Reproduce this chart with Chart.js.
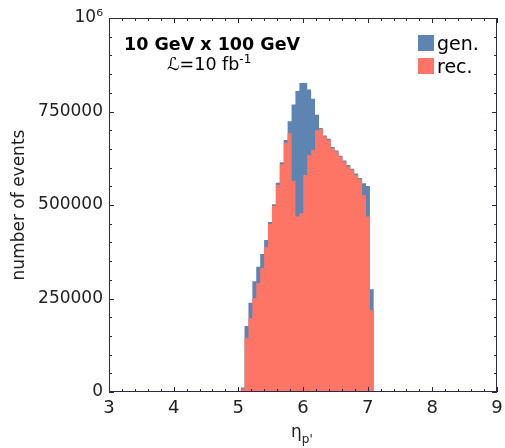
<!DOCTYPE html>
<html>
<head>
<meta charset="utf-8">
<script src="https://cdn.jsdelivr.net/npm/chart.js@4.4.0/dist/chart.umd.min.js"></script>
<style>
  body { margin: 0; background: #fff; }
  canvas { display: block; }
</style>
</head>
<body>
<canvas id="etaHist" width="505" height="448"></canvas>
<script>
// bin edges in eta_p' (35 edges -> 34 bins)
var binEdges = [5.035, 5.096, 5.156, 5.217, 5.277, 5.338, 5.399, 5.459, 5.520, 5.580,
  5.641, 5.702, 5.762, 5.823, 5.883, 5.944, 6.005, 6.065, 6.126, 6.186,
  6.247, 6.308, 6.368, 6.429, 6.489, 6.550, 6.611, 6.671, 6.732, 6.792,
  6.853, 6.914, 6.974, 7.035, 7.095]

// events per bin
var genCounts = [12000, 176500, 238800, 296000, 335000, 369000, 406400, 454600, 502000, 559700,
  614200, 674000, 724000, 769000, 805000, 826000, 826000, 809000, 784000, 741000,
  706000, 686000, 677000, 655000, 646000, 632000, 619000, 607000, 597000, 584000,
  572000, 558000, 551000, 275000]
var recCounts = [9000, 143600, 197000, 250500, 290700, 330800, 387000, 449000, 497400, 553500,
  608900, 666000, 692000, 564000, 469000, 478000, 580000, 634000, 647000, 700000,
  704000, 683000, 674000, 652000, 643000, 629000, 616000, 603000, 594000, 580000,
  569000, 527000, 469000, 219000]

var xTicks = [3, 4, 5, 6, 7, 8, 9]
var yTicks = [0, 250000, 500000, 750000, 1000000]

var seriesNames = ["gen.", "rec."]
var seriesColors = ["#5e84b2", "#fe7566"]

var axisColor = "#2d2848"

// turn counts into step points (last edge closes the histogram)
function histPoints(counts) {
  return binEdges.map(function (x, i) {
    return { x: x, y: i < counts.length ? counts[i] : 0 }
  })
}

// frame with inward ticks on all four sides, labels and legend
var decorations = {
  id: "decorations",
  afterDatasetsDraw: function (chart) {
    var ctx = chart.ctx
    var a = chart.chartArea
    var xs = chart.scales.x
    var ys = chart.scales.y
    ctx.save()
    ctx.strokeStyle = axisColor
    ctx.lineWidth = 1
    ctx.strokeRect(a.left + 0.5, a.top + 0.5, a.right - a.left - 1, a.bottom - a.top - 1)
    ctx.beginPath()
    // x ticks
    for (var i = 0; i <= 30; i++) {
      var v = xs.min + i * 0.2
      var px = Math.round(xs.getPixelForValue(v)) + 0.5
      var len = i % 5 === 0 ? 5 : 3
      ctx.moveTo(px, a.bottom); ctx.lineTo(px, a.bottom - len)
      ctx.moveTo(px, a.top); ctx.lineTo(px, a.top + len)
    }
    // y ticks
    for (var j = 0; j <= 20; j++) {
      var py = Math.round(ys.getPixelForValue(j * 50000)) + 0.5
      var l = j % 5 === 0 ? 5 : 3
      ctx.moveTo(a.left, py); ctx.lineTo(a.left + l, py)
      ctx.moveTo(a.right, py); ctx.lineTo(a.right - l, py)
    }
    ctx.stroke()
    ctx.restore()
  },
  afterDraw: function (chart) {
    var ctx = chart.ctx
    ctx.save()
    ctx.fillStyle = "#000"
    ctx.textBaseline = "alphabetic"
    ctx.textAlign = "left"

    // beam energies
    ctx.font = "bold 17.5px 'DejaVu Sans'"
    ctx.fillText("10 GeV x 100 GeV", 124, 50)

    // luminosity
    ctx.font = "17.5px 'DejaVu Sans'"
    var lum = "\u2112=10 fb"
    ctx.fillText(lum, 167, 70)
    var w = ctx.measureText(lum).width
    ctx.font = "12px 'DejaVu Sans'"
    ctx.fillText("-1", 167 + w, 63)

    // legend
    ctx.font = "19px 'DejaVu Sans'"
    for (var k = 0; k < seriesNames.length; k++) {
      var top = 35 + k * 23
      ctx.fillStyle = seriesColors[k]
      ctx.fillRect(418, top, 16, 16)
      ctx.fillStyle = "#000"
      ctx.fillText(seriesNames[k], 437, top + 15)
    }

    // x axis title: eta with subscript p'
    ctx.font = "17px 'DejaVu Sans'"
    ctx.fillStyle = "#222"
    ctx.fillText("\u03b7", 291, 437)
    var ew = ctx.measureText("\u03b7").width
    ctx.font = "12px 'DejaVu Sans'"
    ctx.fillText("p'", 291 + ew, 443)
    ctx.restore()
  },
}

Chart.defaults.font.family = "'DejaVu Sans'"
Chart.defaults.font.size = 17
Chart.defaults.color = "#222"

var ctxHist = document.getElementById("etaHist").getContext("2d")
var chartHist = new Chart(ctxHist, {
  type: "line",
  data: {
    datasets: [
      {
        label: seriesNames[0],
        data: histPoints(genCounts),
        stepped: "before",
        fill: "origin",
        backgroundColor: seriesColors[0],
        borderColor: "rgba(0,0,0,0)",
        borderWidth: 0,
        pointRadius: 0,
        order: 2,
      },
      {
        label: seriesNames[1],
        data: histPoints(recCounts),
        stepped: "before",
        fill: "origin",
        backgroundColor: seriesColors[1],
        borderColor: "rgba(0,0,0,0)",
        borderWidth: 0,
        pointRadius: 0,
        order: 1,
      },
    ],
  },
  options: {
    responsive: false,
    animation: false,
    layout: { padding: { left: 0, right: 8, top: 18, bottom: 0 } },
    scales: {
      x: {
        type: "linear",
        min: 3,
        max: 9,
        afterFit: function (s) { s.height = 56; s.paddingLeft = 0; s.paddingRight = 0 },
        afterBuildTicks: function (s) { s.ticks = xTicks.map(function (v) { return { value: v } }) },
        grid: { display: false, drawTicks: false },
        border: { display: false },
        ticks: { padding: 6, maxRotation: 0, color: "#222", font: { size: 18 } },
      },
      y: {
        min: 0,
        max: 1000000,
        afterFit: function (s) { s.width = 109; s.paddingTop = 0; s.paddingBottom = 0 },
        afterBuildTicks: function (s) { s.ticks = yTicks.map(function (v) { return { value: v } }) },
        grid: { display: false, drawTicks: false },
        border: { display: false },
        ticks: {
          padding: 6,
          color: "#222",
          font: { size: 17 },
          callback: function (v) { return v === 1000000 ? "10\u2076" : String(v) },
        },
        title: { display: true, text: "number of events", padding: { top: 9, bottom: 0 }, color: "#222", font: { size: 17 } },
      },
    },
    plugins: {
      legend: { display: false },
      tooltip: { enabled: false },
    },
  },
  plugins: [decorations],
})
</script>
</body>
</html>
